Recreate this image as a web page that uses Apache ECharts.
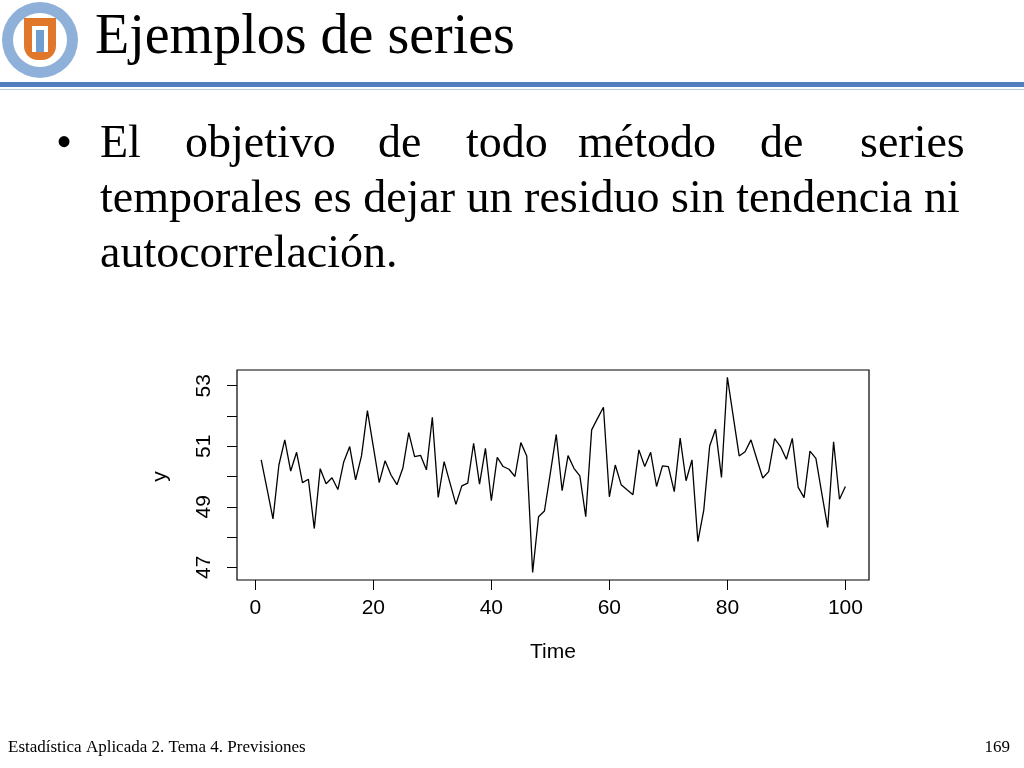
<!DOCTYPE html>
<html><head><meta charset="utf-8">
<script src="https://cdn.jsdelivr.net/npm/echarts@6/dist/echarts.min.js"></script>
<style>html,body{margin:0;padding:0;background:#fff}#c{width:1024px;height:768px}</style>
</head><body><div id="c"></div>
<script>
const times = Array.from({length:100},(_,i)=>i+1);
const yValues = [50.55,49.58,48.60,50.38,51.21,50.18,50.80,49.80,49.91,48.28,
50.26,49.76,49.96,49.57,50.49,50.99,49.89,50.68,52.18,50.99,
49.80,50.52,50.05,49.73,50.27,51.45,50.66,50.70,50.22,51.96,
49.31,50.49,49.78,49.08,49.69,49.78,51.10,49.75,50.93,49.20,
50.63,50.33,50.24,50.00,51.12,50.68,46.83,48.67,48.86,50.11,
51.39,49.53,50.69,50.27,50.02,48.67,51.54,51.92,52.29,49.33,
50.38,49.73,49.56,49.40,50.88,50.33,50.80,49.67,50.35,50.33,
49.50,51.27,49.86,50.55,47.85,48.89,51.01,51.56,49.97,53.28,
51.98,50.68,50.82,51.21,50.57,49.95,50.16,51.25,50.99,50.57,
51.26,49.64,49.30,50.84,50.60,49.44,48.32,51.15,49.25,49.67];
const xTicks = [0,20,40,60,80,100];
const yLabels = [47,49,51,53];

const serif = '"Liberation Serif", "Times New Roman", serif';
const sans = '"Liberation Sans", Arial, sans-serif';
const chart = echarts.init(document.getElementById('c'));
const line1 = [['El',100],['objetivo',185],['de',378],['todo',466],['método',578],['de',760],['series',860]];
const bodyFont = '46px '+serif;
const graphics = [
  {type:'circle',shape:{cx:40,cy:40,r:38},style:{fill:'#8fb1d9'}},
  {type:'circle',shape:{cx:40,cy:40,r:27},style:{fill:'#fff'}},
  {type:'rect',shape:{x:24,y:18,width:32,height:42,r:[0,0,14,14]},style:{fill:'#e0772a'}},
  {type:'rect',shape:{x:32,y:26,width:16,height:26},style:{fill:'#fff'}},
  {type:'rect',shape:{x:36,y:30,width:8,height:22},style:{fill:'#6e9fd0'}},
  {type:'rect',shape:{x:0,y:82,width:1024,height:5},style:{fill:'#4f7fbf'}},
  {type:'rect',shape:{x:0,y:89,width:1024,height:1},style:{fill:'#b8cce4'}},
  {type:'text',left:95,top:10,style:{text:'Ejemplos de series',font:'56px '+serif,fill:'#000'}},
  {type:'text',left:56,top:122,style:{text:'•',font:bodyFont,fill:'#000'}},
  {type:'text',left:100,top:177,style:{text:'temporales es dejar un residuo sin tendencia ni',font:bodyFont,fill:'#000'}},
  {type:'text',left:100,top:232,style:{text:'autocorrelación.',font:bodyFont,fill:'#000'}},
  {type:'text',left:8,top:739,style:{text:'Estadística Aplicada 2. Tema 4. Previsiones',font:'17px '+serif,fill:'#000'}},
  {type:'text',right:14,top:739,style:{text:'169',font:'17px '+serif,fill:'#000'}}
];
line1.forEach(([w,x])=>graphics.push({type:'text',left:x,top:122,style:{text:w,font:bodyFont,fill:'#000'}}));

chart.setOption({
  animation:false,
  graphic:graphics,
  grid:[
    {left:237,right:155,top:370,bottom:188,show:true,borderColor:'#000',borderWidth:1.2,backgroundColor:'transparent'},
    {left:237,right:155,top:385.7,bottom:200.7,show:false}
  ],
  xAxis:[
    {type:'value',gridIndex:0,min:-3.1,max:104,name:'Time',nameLocation:'middle',nameGap:62,
    nameTextStyle:{fontFamily:sans,fontSize:21,color:'#000'},
    axisLine:{show:true,lineStyle:{color:'rgba(0,0,0,0)'}},splitLine:{show:false},
    axisTick:{show:true,inside:false,length:10,lineStyle:{color:'#000'},customValues:xTicks},
    axisLabel:{fontFamily:sans,fontSize:21,color:'#000',margin:18,customValues:xTicks}},
    {type:'value',gridIndex:1,min:0,max:1,show:false}
  ],
  yAxis:[
    {type:'value',gridIndex:0,min:46.58,max:53.52,show:false},
    {type:'value',gridIndex:1,min:47,max:53,interval:1,name:'y',nameLocation:'middle',nameGap:66,nameRotate:90,
    nameTextStyle:{fontFamily:sans,fontSize:21,color:'#000'},
    axisLine:{show:false},splitLine:{show:false},
    axisTick:{show:true,inside:false,length:10,lineStyle:{color:'#000'}},
    axisLabel:{fontFamily:sans,fontSize:21,color:'#000',rotate:90,margin:22,
      formatter:v=>yLabels.includes(v)?String(v):''}}
  ],
  series:[{type:'line',xAxisIndex:0,yAxisIndex:0,data:times.map((t,i)=>[t,yValues[i]]),showSymbol:false,
    lineStyle:{color:'#000',width:1.3}}]
});
</script></body></html>
